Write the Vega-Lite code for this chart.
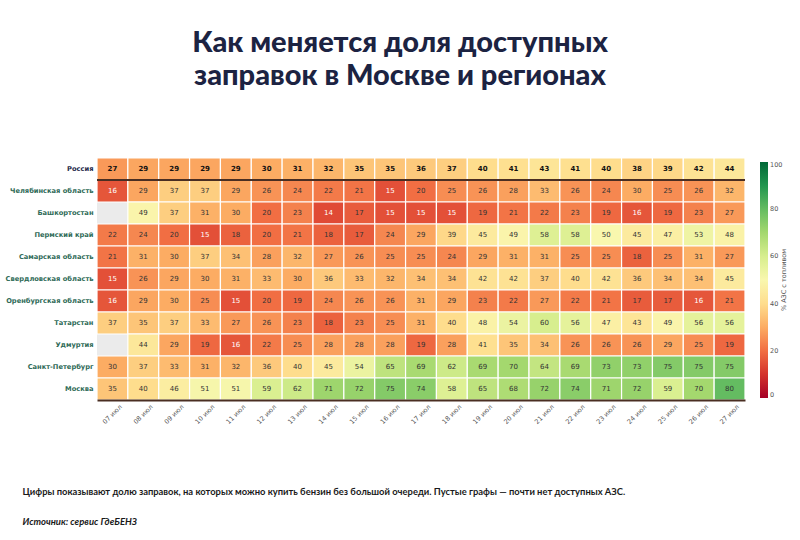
{
  "$schema": "https://vega.github.io/schema/vega-lite/v6.json",
  "width": 648,
  "height": 242,
  "autosize": {"type": "none"},
  "padding": {"left": 97, "top": 158, "right": 55, "bottom": 140},
  "background": "white",
  "title": {
    "text": ["Как меняется доля доступных", "заправок в Москве и регионах"],
    "anchor": "middle",
    "frame": "group",
    "dx": -21,
    "offset": 66,
    "font": "Lato",
    "fontSize": 29,
    "fontWeight": 900,
    "lineHeight": 33,
    "color": "#1c2342"
  },
  "config": {
    "view": {"stroke": null},
    "font": "DejaVu Sans"
  },
  "datasets": {
    "cells": [
      {"region":"Россия","day":"07 июл","pct":27},{"region":"Россия","day":"08 июл","pct":29},{"region":"Россия","day":"09 июл","pct":29},{"region":"Россия","day":"10 июл","pct":29},{"region":"Россия","day":"11 июл","pct":29},{"region":"Россия","day":"12 июл","pct":30},{"region":"Россия","day":"13 июл","pct":31},{"region":"Россия","day":"14 июл","pct":32},{"region":"Россия","day":"15 июл","pct":35},{"region":"Россия","day":"16 июл","pct":35},{"region":"Россия","day":"17 июл","pct":36},{"region":"Россия","day":"18 июл","pct":37},{"region":"Россия","day":"19 июл","pct":40},{"region":"Россия","day":"20 июл","pct":41},{"region":"Россия","day":"21 июл","pct":43},{"region":"Россия","day":"22 июл","pct":41},{"region":"Россия","day":"23 июл","pct":40},{"region":"Россия","day":"24 июл","pct":38},{"region":"Россия","day":"25 июл","pct":39},{"region":"Россия","day":"26 июл","pct":42},{"region":"Россия","day":"27 июл","pct":44},
      {"region":"Челябинская область","day":"07 июл","pct":16},{"region":"Челябинская область","day":"08 июл","pct":29},{"region":"Челябинская область","day":"09 июл","pct":37},{"region":"Челябинская область","day":"10 июл","pct":37},{"region":"Челябинская область","day":"11 июл","pct":29},{"region":"Челябинская область","day":"12 июл","pct":26},{"region":"Челябинская область","day":"13 июл","pct":24},{"region":"Челябинская область","day":"14 июл","pct":22},{"region":"Челябинская область","day":"15 июл","pct":21},{"region":"Челябинская область","day":"16 июл","pct":15},{"region":"Челябинская область","day":"17 июл","pct":20},{"region":"Челябинская область","day":"18 июл","pct":25},{"region":"Челябинская область","day":"19 июл","pct":26},{"region":"Челябинская область","day":"20 июл","pct":28},{"region":"Челябинская область","day":"21 июл","pct":33},{"region":"Челябинская область","day":"22 июл","pct":26},{"region":"Челябинская область","day":"23 июл","pct":24},{"region":"Челябинская область","day":"24 июл","pct":30},{"region":"Челябинская область","day":"25 июл","pct":25},{"region":"Челябинская область","day":"26 июл","pct":26},{"region":"Челябинская область","day":"27 июл","pct":32},
      {"region":"Башкортостан","day":"07 июл","pct":null},{"region":"Башкортостан","day":"08 июл","pct":49},{"region":"Башкортостан","day":"09 июл","pct":37},{"region":"Башкортостан","day":"10 июл","pct":31},{"region":"Башкортостан","day":"11 июл","pct":30},{"region":"Башкортостан","day":"12 июл","pct":20},{"region":"Башкортостан","day":"13 июл","pct":23},{"region":"Башкортостан","day":"14 июл","pct":14},{"region":"Башкортостан","day":"15 июл","pct":17},{"region":"Башкортостан","day":"16 июл","pct":15},{"region":"Башкортостан","day":"17 июл","pct":15},{"region":"Башкортостан","day":"18 июл","pct":15},{"region":"Башкортостан","day":"19 июл","pct":19},{"region":"Башкортостан","day":"20 июл","pct":21},{"region":"Башкортостан","day":"21 июл","pct":22},{"region":"Башкортостан","day":"22 июл","pct":23},{"region":"Башкортостан","day":"23 июл","pct":19},{"region":"Башкортостан","day":"24 июл","pct":16},{"region":"Башкортостан","day":"25 июл","pct":19},{"region":"Башкортостан","day":"26 июл","pct":23},{"region":"Башкортостан","day":"27 июл","pct":27},
      {"region":"Пермский край","day":"07 июл","pct":22},{"region":"Пермский край","day":"08 июл","pct":24},{"region":"Пермский край","day":"09 июл","pct":20},{"region":"Пермский край","day":"10 июл","pct":15},{"region":"Пермский край","day":"11 июл","pct":18},{"region":"Пермский край","day":"12 июл","pct":20},{"region":"Пермский край","day":"13 июл","pct":21},{"region":"Пермский край","day":"14 июл","pct":18},{"region":"Пермский край","day":"15 июл","pct":17},{"region":"Пермский край","day":"16 июл","pct":24},{"region":"Пермский край","day":"17 июл","pct":29},{"region":"Пермский край","day":"18 июл","pct":39},{"region":"Пермский край","day":"19 июл","pct":45},{"region":"Пермский край","day":"20 июл","pct":49},{"region":"Пермский край","day":"21 июл","pct":58},{"region":"Пермский край","day":"22 июл","pct":58},{"region":"Пермский край","day":"23 июл","pct":50},{"region":"Пермский край","day":"24 июл","pct":45},{"region":"Пермский край","day":"25 июл","pct":47},{"region":"Пермский край","day":"26 июл","pct":53},{"region":"Пермский край","day":"27 июл","pct":48},
      {"region":"Самарская область","day":"07 июл","pct":21},{"region":"Самарская область","day":"08 июл","pct":31},{"region":"Самарская область","day":"09 июл","pct":30},{"region":"Самарская область","day":"10 июл","pct":37},{"region":"Самарская область","day":"11 июл","pct":34},{"region":"Самарская область","day":"12 июл","pct":28},{"region":"Самарская область","day":"13 июл","pct":32},{"region":"Самарская область","day":"14 июл","pct":27},{"region":"Самарская область","day":"15 июл","pct":26},{"region":"Самарская область","day":"16 июл","pct":25},{"region":"Самарская область","day":"17 июл","pct":25},{"region":"Самарская область","day":"18 июл","pct":24},{"region":"Самарская область","day":"19 июл","pct":29},{"region":"Самарская область","day":"20 июл","pct":31},{"region":"Самарская область","day":"21 июл","pct":31},{"region":"Самарская область","day":"22 июл","pct":25},{"region":"Самарская область","day":"23 июл","pct":25},{"region":"Самарская область","day":"24 июл","pct":18},{"region":"Самарская область","day":"25 июл","pct":25},{"region":"Самарская область","day":"26 июл","pct":31},{"region":"Самарская область","day":"27 июл","pct":27},
      {"region":"Свердловская область","day":"07 июл","pct":15},{"region":"Свердловская область","day":"08 июл","pct":26},{"region":"Свердловская область","day":"09 июл","pct":29},{"region":"Свердловская область","day":"10 июл","pct":30},{"region":"Свердловская область","day":"11 июл","pct":31},{"region":"Свердловская область","day":"12 июл","pct":33},{"region":"Свердловская область","day":"13 июл","pct":30},{"region":"Свердловская область","day":"14 июл","pct":36},{"region":"Свердловская область","day":"15 июл","pct":33},{"region":"Свердловская область","day":"16 июл","pct":32},{"region":"Свердловская область","day":"17 июл","pct":34},{"region":"Свердловская область","day":"18 июл","pct":34},{"region":"Свердловская область","day":"19 июл","pct":42},{"region":"Свердловская область","day":"20 июл","pct":42},{"region":"Свердловская область","day":"21 июл","pct":37},{"region":"Свердловская область","day":"22 июл","pct":40},{"region":"Свердловская область","day":"23 июл","pct":42},{"region":"Свердловская область","day":"24 июл","pct":36},{"region":"Свердловская область","day":"25 июл","pct":34},{"region":"Свердловская область","day":"26 июл","pct":34},{"region":"Свердловская область","day":"27 июл","pct":45},
      {"region":"Оренбургская область","day":"07 июл","pct":16},{"region":"Оренбургская область","day":"08 июл","pct":29},{"region":"Оренбургская область","day":"09 июл","pct":30},{"region":"Оренбургская область","day":"10 июл","pct":25},{"region":"Оренбургская область","day":"11 июл","pct":15},{"region":"Оренбургская область","day":"12 июл","pct":20},{"region":"Оренбургская область","day":"13 июл","pct":19},{"region":"Оренбургская область","day":"14 июл","pct":24},{"region":"Оренбургская область","day":"15 июл","pct":26},{"region":"Оренбургская область","day":"16 июл","pct":26},{"region":"Оренбургская область","day":"17 июл","pct":31},{"region":"Оренбургская область","day":"18 июл","pct":29},{"region":"Оренбургская область","day":"19 июл","pct":23},{"region":"Оренбургская область","day":"20 июл","pct":22},{"region":"Оренбургская область","day":"21 июл","pct":27},{"region":"Оренбургская область","day":"22 июл","pct":22},{"region":"Оренбургская область","day":"23 июл","pct":21},{"region":"Оренбургская область","day":"24 июл","pct":17},{"region":"Оренбургская область","day":"25 июл","pct":17},{"region":"Оренбургская область","day":"26 июл","pct":16},{"region":"Оренбургская область","day":"27 июл","pct":21},
      {"region":"Татарстан","day":"07 июл","pct":37},{"region":"Татарстан","day":"08 июл","pct":35},{"region":"Татарстан","day":"09 июл","pct":37},{"region":"Татарстан","day":"10 июл","pct":33},{"region":"Татарстан","day":"11 июл","pct":27},{"region":"Татарстан","day":"12 июл","pct":26},{"region":"Татарстан","day":"13 июл","pct":23},{"region":"Татарстан","day":"14 июл","pct":18},{"region":"Татарстан","day":"15 июл","pct":23},{"region":"Татарстан","day":"16 июл","pct":25},{"region":"Татарстан","day":"17 июл","pct":31},{"region":"Татарстан","day":"18 июл","pct":40},{"region":"Татарстан","day":"19 июл","pct":48},{"region":"Татарстан","day":"20 июл","pct":54},{"region":"Татарстан","day":"21 июл","pct":60},{"region":"Татарстан","day":"22 июл","pct":56},{"region":"Татарстан","day":"23 июл","pct":47},{"region":"Татарстан","day":"24 июл","pct":43},{"region":"Татарстан","day":"25 июл","pct":49},{"region":"Татарстан","day":"26 июл","pct":56},{"region":"Татарстан","day":"27 июл","pct":56},
      {"region":"Удмуртия","day":"07 июл","pct":null},{"region":"Удмуртия","day":"08 июл","pct":44},{"region":"Удмуртия","day":"09 июл","pct":29},{"region":"Удмуртия","day":"10 июл","pct":19},{"region":"Удмуртия","day":"11 июл","pct":16},{"region":"Удмуртия","day":"12 июл","pct":22},{"region":"Удмуртия","day":"13 июл","pct":25},{"region":"Удмуртия","day":"14 июл","pct":28},{"region":"Удмуртия","day":"15 июл","pct":28},{"region":"Удмуртия","day":"16 июл","pct":28},{"region":"Удмуртия","day":"17 июл","pct":19},{"region":"Удмуртия","day":"18 июл","pct":28},{"region":"Удмуртия","day":"19 июл","pct":41},{"region":"Удмуртия","day":"20 июл","pct":35},{"region":"Удмуртия","day":"21 июл","pct":34},{"region":"Удмуртия","day":"22 июл","pct":26},{"region":"Удмуртия","day":"23 июл","pct":26},{"region":"Удмуртия","day":"24 июл","pct":26},{"region":"Удмуртия","day":"25 июл","pct":29},{"region":"Удмуртия","day":"26 июл","pct":25},{"region":"Удмуртия","day":"27 июл","pct":19},
      {"region":"Санкт-Петербург","day":"07 июл","pct":30},{"region":"Санкт-Петербург","day":"08 июл","pct":37},{"region":"Санкт-Петербург","day":"09 июл","pct":33},{"region":"Санкт-Петербург","day":"10 июл","pct":31},{"region":"Санкт-Петербург","day":"11 июл","pct":32},{"region":"Санкт-Петербург","day":"12 июл","pct":36},{"region":"Санкт-Петербург","day":"13 июл","pct":40},{"region":"Санкт-Петербург","day":"14 июл","pct":45},{"region":"Санкт-Петербург","day":"15 июл","pct":54},{"region":"Санкт-Петербург","day":"16 июл","pct":65},{"region":"Санкт-Петербург","day":"17 июл","pct":69},{"region":"Санкт-Петербург","day":"18 июл","pct":62},{"region":"Санкт-Петербург","day":"19 июл","pct":69},{"region":"Санкт-Петербург","day":"20 июл","pct":70},{"region":"Санкт-Петербург","day":"21 июл","pct":64},{"region":"Санкт-Петербург","day":"22 июл","pct":69},{"region":"Санкт-Петербург","day":"23 июл","pct":73},{"region":"Санкт-Петербург","day":"24 июл","pct":73},{"region":"Санкт-Петербург","day":"25 июл","pct":75},{"region":"Санкт-Петербург","day":"26 июл","pct":75},{"region":"Санкт-Петербург","day":"27 июл","pct":75},
      {"region":"Москва","day":"07 июл","pct":35},{"region":"Москва","day":"08 июл","pct":40},{"region":"Москва","day":"09 июл","pct":46},{"region":"Москва","day":"10 июл","pct":51},{"region":"Москва","day":"11 июл","pct":51},{"region":"Москва","day":"12 июл","pct":59},{"region":"Москва","day":"13 июл","pct":62},{"region":"Москва","day":"14 июл","pct":71},{"region":"Москва","day":"15 июл","pct":72},{"region":"Москва","day":"16 июл","pct":75},{"region":"Москва","day":"17 июл","pct":74},{"region":"Москва","day":"18 июл","pct":58},{"region":"Москва","day":"19 июл","pct":65},{"region":"Москва","day":"20 июл","pct":68},{"region":"Москва","day":"21 июл","pct":72},{"region":"Москва","day":"22 июл","pct":74},{"region":"Москва","day":"23 июл","pct":71},{"region":"Москва","day":"24 июл","pct":72},{"region":"Москва","day":"25 июл","pct":59},{"region":"Москва","day":"26 июл","pct":70},{"region":"Москва","day":"27 июл","pct":80}
    ]
  },
  "data": {"name": "cells"},
  "encoding": {
    "x": {
      "field": "day",
      "type": "ordinal",
      "scale": {"paddingInner": 0, "paddingOuter": 0},
      "axis": {
        "title": "Цифры показывают долю заправок, на которых можно купить бензин без большой очереди. Пустые графы — почти нет доступных АЗС.",
        "titleFont": "Lato",
        "titleFontSize": 9.4,
        "titleFontWeight": 700,
        "titleColor": "#1a1a1a",
        "titleAnchor": "start",
        "titleAlign": "left",
        "titleBaseline": "alphabetic",
        "titleX": -75,
        "titleY": 94,
        "labelAngle": -45,
        "labelAlign": "center",
        "labelBaseline": "middle",
        "labelPadding": 14,
        "labelFontSize": 6.5,
        "labelColor": "#555555",
        "ticks": false,
        "domainColor": "#4a2e22",
        "domainWidth": 2
      }
    },
    "y": {
      "field": "region",
      "type": "nominal",
      "sort": ["Россия","Челябинская область","Башкортостан","Пермский край","Самарская область","Свердловская область","Оренбургская область","Татарстан","Удмуртия","Санкт-Петербург","Москва"],
      "scale": {"paddingInner": 0, "paddingOuter": 0},
      "axis": {
        "title": "Источник: сервис ГдеБЕНЗ",
        "titleAngle": 0,
        "titleFont": "Lato",
        "titleFontSize": 9.5,
        "titleFontWeight": 700,
        "titleFontStyle": "italic",
        "titleColor": "#1a1a1a",
        "titleAlign": "left",
        "titleBaseline": "alphabetic",
        "titleX": -75,
        "titleY": 366,
        "labelFontSize": 6.7,
        "labelFontWeight": "bold",
        "labelColor": {"condition": {"test": "datum.value == 'Россия'", "value": "#1f2a4a"}, "value": "#2f6b58"},
        "labelPadding": 4,
        "ticks": false,
        "domain": false
      }
    }
  },
  "layer": [
    {"mark": {"type": "rect", "color": "#ebebeb"}},
    {
      "transform": [{"filter": "datum.pct != null"}],
      "mark": {"type": "rect", "stroke": "white", "strokeWidth": 1.2},
      "encoding": {
        "color": {
          "field": "pct",
          "type": "quantitative",
          "scale": {"scheme": "redyellowgreen", "domain": [0, 100]},
          "legend": {
            "title": "% АЗС с топливом",
            "orient": "none",
            "legendX": 663,
            "legendY": 4,
            "direction": "vertical",
            "gradientLength": 236,
            "gradientThickness": 8,
            "gradientStrokeWidth": 0,
            "values": [0, 20, 40, 60, 80, 100],
            "labelFontSize": 6.5,
            "labelColor": "#555555",
            "titleOrient": "right",
            "titleFontSize": 6.5,
            "titleFontWeight": "normal",
            "titleColor": "#555555",
            "encode": {"title": {"update": {"angle": {"value": 270}}}}
          }
        }
      }
    },
    {
      "mark": {"type": "rule", "color": "#4a2e22", "strokeWidth": 2},
      "encoding": {"y": {"datum": "Челябинская область", "type": "nominal", "bandPosition": 0}, "x": null}
    },
    {
      "transform": [{"filter": "datum.region == 'Россия'"}],
      "mark": {"type": "text", "fontSize": 7, "fontWeight": "bold", "color": "#111111"},
      "encoding": {"text": {"field": "pct", "type": "quantitative"}}
    },
    {
      "transform": [{"filter": "datum.region != 'Россия' && datum.pct != null"}],
      "mark": {"type": "text", "fontSize": 7},
      "encoding": {
        "text": {"field": "pct", "type": "quantitative"},
        "color": {"condition": {"test": "datum.pct <= 16", "value": "white"}, "value": "#333333"}
      }
    }
  ]
}
